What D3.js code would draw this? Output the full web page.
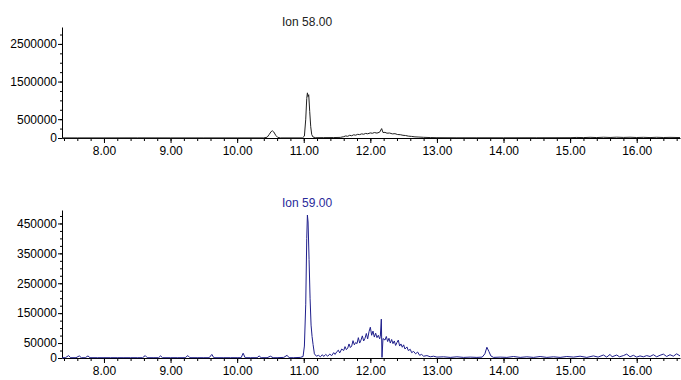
<!DOCTYPE html>
<html>
<head>
<meta charset="utf-8">
<script src="https://cdn.jsdelivr.net/npm/d3@7"></script>
<style>
  body { margin: 0; background: #fff; }
  text { font-family: "Liberation Sans", Arial, sans-serif; }
</style>
</head>
<body>
<div id="chart"></div>
<script>
// retention time (min) / abundance pairs
const ion58 = [
  [7.37,3000],[7.6,3000],[8.0,3000],[8.5,4000],[9.0,3000],[9.5,3000],[10.0,3000],[10.4,3000],
  [10.45,20000],[10.48,90000],[10.51,170000],[10.53,190000],[10.55,160000],[10.58,70000],[10.61,15000],[10.65,3000],
  [10.98,3000],[11.01,50000],[11.03,500000],[11.045,1050000],[11.055,1200000],[11.065,1100000],[11.075,1150000],
  [11.09,700000],[11.105,300000],[11.12,90000],[11.14,25000],[11.18,8000],[11.3,10000],[11.45,12000],[11.55,16000],
  [11.6,35000],[11.63,55000],[11.66,45000],[11.69,72000],[11.72,60000],[11.75,85000],[11.78,75000],[11.81,98000],
  [11.84,90000],[11.87,110000],[11.9,100000],[11.93,122000],[11.96,112000],[12.0,135000],[12.03,125000],[12.06,145000],
  [12.1,130000],[12.14,155000],[12.17,250000],[12.19,145000],[12.22,150000],[12.25,128000],[12.29,132000],[12.33,110000],
  [12.37,115000],[12.41,92000],[12.45,88000],[12.49,72000],[12.53,66000],[12.57,50000],[12.62,42000],[12.67,30000],
  [12.73,25000],[12.8,18000],[12.9,12000],[13.0,8000],[13.3,6000],[13.6,6000],[14.0,6000],[14.5,7000],[15.0,8000],
  [15.1,15000],[15.2,11000],[15.3,18000],[15.4,12000],[15.5,20000],[15.6,14000],[15.7,22000],[15.8,15000],[15.9,20000],
  [16.0,13000],[16.1,18000],[16.2,12000],[16.3,19000],[16.4,13000],[16.5,17000],[16.65,12000]
];

const ion59 = [
  [7.37,1000],[7.42,1000],[7.47,8000],[7.5,1000],[7.58,1000],[7.63,7000],[7.66,1000],[7.72,1000],[7.76,7000],[7.79,1000],
  [7.9,1000],[8.0,1000],[8.1,1000],[8.2,1000],[8.3,1000],[8.4,1000],[8.5,1000],[8.58,1000],[8.62,8000],[8.65,1000],
  [8.75,1000],[8.82,1000],[8.85,7000],[8.88,1000],[9.0,1000],[9.1,1000],[9.22,1000],[9.26,8000],[9.29,1000],[9.4,1000],
  [9.5,1000],[9.58,1000],[9.62,12000],[9.65,1000],[9.8,1000],[9.9,1000],[10.0,1000],[10.06,1000],[10.09,16000],[10.12,1000],
  [10.2,1000],[10.3,1000],[10.33,7000],[10.36,1000],[10.45,1000],[10.5,6000],[10.54,1000],[10.6,1000],[10.7,2000],
  [10.75,9000],[10.78,1000],[10.85,1000],[10.95,2000],
  [10.99,5000],[11.01,40000],[11.03,180000],[11.045,400000],[11.055,478000],[11.065,455000],[11.08,330000],[11.095,200000],
  [11.11,110000],[11.125,72000],[11.14,45000],[11.16,14000],[11.19,6000],[11.22,9000],[11.25,4000],[11.28,11000],
  [11.3,5000],[11.33,12000],[11.36,6000],[11.39,13000],[11.42,8000],[11.45,18000],[11.47,12000],[11.5,22000],
  [11.52,26000],[11.54,17000],[11.57,30000],[11.6,25000],[11.62,38000],[11.64,28000],[11.66,33000],[11.68,47000],
  [11.7,35000],[11.72,40000],[11.74,58000],[11.76,44000],[11.78,52000],[11.8,48000],[11.82,68000],[11.84,50000],
  [11.86,60000],[11.88,74000],[11.9,57000],[11.92,66000],[11.94,82000],[11.96,64000],[11.98,88000],[12.0,103000],
  [12.02,76000],[12.04,90000],[12.06,70000],[12.08,83000],[12.1,68000],[12.12,76000],[12.14,64000],[12.15,72000],
  [12.165,130000],[12.175,2000],[12.19,65000],[12.22,60000],[12.24,72000],[12.26,55000],[12.28,66000],[12.3,50000],
  [12.32,62000],[12.34,48000],[12.36,57000],[12.38,42000],[12.4,52000],[12.42,60000],[12.44,40000],[12.46,47000],
  [12.48,36000],[12.5,44000],[12.52,30000],[12.55,37000],[12.57,25000],[12.6,29000],[12.62,18000],[12.65,22000],
  [12.68,14000],[12.71,20000],[12.74,9000],[12.77,12000],[12.8,6000],[12.85,8000],[12.9,4000],[12.95,6000],
  [13.0,3000],[13.1,4000],[13.2,2000],[13.3,4000],[13.4,2000],[13.5,3000],[13.6,2000],[13.68,3000],[13.72,14000],
  [13.75,36000],[13.78,22000],[13.81,7000],[13.85,2000],[13.95,3000],[14.05,2000],[14.15,5000],[14.25,2000],[14.35,4000],
  [14.45,2000],[14.55,5000],[14.65,2000],[14.75,4000],[14.85,2000],[14.95,5000],[15.05,3000],[15.15,6000],[15.25,2000],
  [15.35,7000],[15.42,3000],[15.5,10000],[15.55,3000],[15.6,12000],[15.63,4000],[15.7,10000],[15.74,4000],[15.8,8000],
  [15.85,13000],[15.9,4000],[15.95,9000],[16.0,3000],[16.05,7000],[16.1,4000],[16.15,8000],[16.2,5000],[16.25,11000],
  [16.3,4000],[16.35,9000],[16.4,13000],[16.45,5000],[16.5,11000],[16.55,6000],[16.6,14000],[16.65,7000]
];

const xTicks = [8, 9, 10, 11, 12, 13, 14, 15, 16];
const yTicks58 = [0, 500000, 1500000, 2500000];
const yTicks59 = [0, 50000, 150000, 250000, 350000, 450000];

const width = 681;
const height = 380;

const svg = d3.select("#chart").append("svg")
    .attr("width", width)
    .attr("height", height)
    .attr("viewBox", [0, 0, width, height]);

const x = d3.scaleLinear().domain([7.37, 16.65]).range([62, 680]);

function panel(data, yMax, yTop, yBottom, yTicks, minorStep, color, title, titleY, titleColor) {
    const y = d3.scaleLinear().domain([0, yMax]).range([yBottom, yTop]);
    const g = svg.append("g");

    // minor x ticks
    g.append("g")
        .attr("transform", `translate(0,${yBottom})`)
        .call(d3.axisBottom(x).tickValues(d3.range(7.4, 16.61, 0.2)).tickSize(3).tickFormat(""))
        .call(a => a.select(".domain").remove());

    g.append("g")
        .attr("transform", `translate(0,${yBottom})`)
        .call(d3.axisBottom(x).tickValues(xTicks).tickSize(5).tickSizeOuter(0).tickPadding(3).tickFormat(d3.format(".2f")))
        .call(a => a.selectAll("text").attr("font-size", 12).attr("fill", "#000"));

    // minor y ticks
    g.append("g")
        .attr("transform", `translate(62,0)`)
        .call(d3.axisLeft(y).tickValues(d3.range(0, yMax, minorStep)).tickSize(2).tickFormat(""))
        .call(a => a.select(".domain").remove());

    g.append("g")
        .attr("transform", `translate(62,0)`)
        .call(d3.axisLeft(y).tickValues(yTicks).tickSize(4).tickSizeOuter(0).tickPadding(1).tickFormat(d3.format("d")))
        .call(a => a.selectAll("text").attr("font-size", 12).attr("fill", "#000"));

    g.selectAll(".domain, .tick line").attr("stroke", "#000");

    const line = d3.line().x(d => x(d[0])).y(d => y(d[1]));
    g.append("path")
        .datum(data)
        .attr("d", line)
        .attr("fill", "none")
        .attr("stroke", color)
        .attr("stroke-width", 1);

    g.append("text")
        .attr("x", x(11.05))
        .attr("y", titleY)
        .attr("text-anchor", "middle")
        .attr("font-size", 12)
        .attr("fill", titleColor)
        .text(title);
}

panel(ion58, 2950000, 27, 138, yTicks58, 250000, "#222", "Ion 58.00", 26, "#222");
panel(ion59, 495000, 210, 358, yTicks59, 25000, "#1f1f8c", "Ion 59.00", 207, "#2a2a9a");
</script>
</body>
</html>
